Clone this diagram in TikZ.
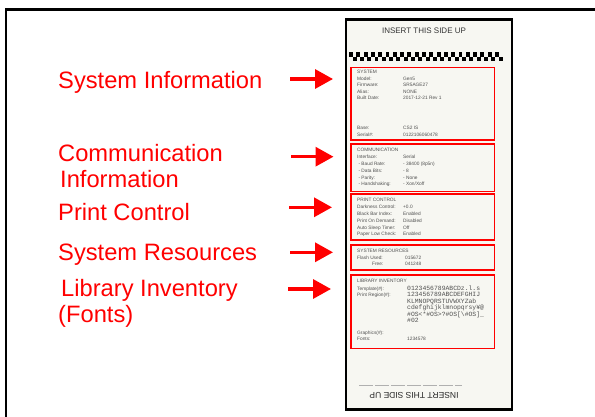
\documentclass[tikz,border=0pt]{standalone}
\usepackage{fontspec}
\setmainfont{Liberation Sans}
\newfontfamily\smono{Liberation Mono}
\usetikzlibrary{arrows.meta,fit}
\definecolor{paper}{RGB}{247,247,242}
\definecolor{ink}{RGB}{80,80,80}

\begin{document}
\begin{tikzpicture}[x=1pt,y=-1pt,
  lbl/.style={text=red,font=\fontsize{23.7}{26}\selectfont,inner sep=0pt,anchor=base west},
  sec/.style={draw=red,line width=1.8pt,inner sep=0pt},
  rtxt/.style={text=ink,inner sep=0pt,anchor=base west},
  arr/.style={draw=red,line width=3.3pt,-{Triangle[length=18pt,width=19pt]}}]
\path[use as bounding box,fill=white] (0,0) rectangle (595,417);
\draw[line width=2.6pt] (6,417) -- (6,9.5) -- (595,9.5);

% the printed slip
\node[draw,line width=2.4pt,fill=paper,inner sep=0pt,fit={(346,19.5) (512,409.5)}] (slip) {};
\node[font=\fontsize{8}{9}\selectfont,text=black!80] (topmark) at (424,31) {INSERT THIS SIDE UP};
\foreach \i in {0,...,20} {
  \fill (349+7.3*\i,52) rectangle +(3.9,4.7);
  \fill (352.6+7.3*\i,56.7) rectangle +(3.9,4.7);
}
\node[sec,fit={(351,67.5) (494.5,140)}] (sysbox) {};
\node[sec,fit={(351,144) (494.5,191.5)}] (combox) {};
\node[sec,fit={(351,194) (494.5,240)}] (prnbox) {};
\node[sec,fit={(351,245) (494.5,270)}] (resbox) {};
\node[sec,fit={(351,275) (494.5,348.5)}] (libbox) {};

\node[rtxt,font=\fontsize{4.8}{6.4}\selectfont] (systxt) at (357,74) {\begin{tabular}[t]{@{}p{46pt}@{}l@{}}
\multicolumn{2}{@{}l@{}}{SYSTEM}\\ Model: & Gen5\\ Firmware: & SR5AGE27\\ Alias: & NONE\\ Built Date: & 2017-12-21 Rev 1\\[24pt]
Base: & CS2 IS\\ Serial\#: & 0122106060478\end{tabular}};
\node[rtxt,font=\fontsize{4.8}{6.9}\selectfont] (comtxt) at (357,151.5) {\begin{tabular}[t]{@{}p{46pt}@{}l@{}}
\multicolumn{2}{@{}l@{}}{COMMUNICATION}\\ Interface: & Serial\\ \ - Baud Rate: & - 38400 (8p5n)\\ \ - Data Bits: & - 8\\
\ - Parity: & - None\\ \ - Handshaking: & - Xon/Xoff\end{tabular}};
\node[rtxt,font=\fontsize{4.8}{6.8}\selectfont] (prntxt) at (357,202) {\begin{tabular}[t]{@{}p{46pt}@{}l@{}}
\multicolumn{2}{@{}l@{}}{PRINT CONTROL}\\ Darkness Control: & +0.0\\ Black Bar Index: & Enabled\\ Print On Demand: & Disabled\\
Auto Sleep Timer: & Off\\ Paper Low Check: & Enabled\end{tabular}};
\node[rtxt,font=\fontsize{4.8}{6.5}\selectfont] (restxt) at (357,253) {\begin{tabular}[t]{@{}p{48pt}@{}l@{}}
\multicolumn{2}{@{}l@{}}{SYSTEM RESOURCES}\\ Flash Used: & 015672\\ \hspace{15pt}Free: & 041248\end{tabular}};
\node[rtxt,font=\fontsize{4.8}{6.5}\selectfont] (libtxt) at (357,282) {\begin{tabular}[t]{@{}p{50pt}@{}l@{}}
\multicolumn{2}{@{}l@{}}{LIBRARY INVENTORY}\\[1.5pt] Template(\#): & {\smono\fontsize{6.4}{6.5}\selectfont 0123456789ABCDz.l.s}\\
Print Region(\#): & {\smono\fontsize{6.4}{6.5}\selectfont 123456789ABCDEFGHIJ}\\
 & {\smono\fontsize{6.4}{6.5}\selectfont KLMNOPQRSTUVWXYZab}\\
 & {\smono\fontsize{6.4}{6.5}\selectfont cdefghijklmnopqrsy¥@}\\
 & {\smono\fontsize{6.4}{6.5}\selectfont \#OS<*\#OS>?\#OS[\textbackslash\#OS]\_}\\
 & {\smono\fontsize{6.4}{6.5}\selectfont \#02}\\[5pt]
Graphics(\#): & \\ Fonts: & 1234578\end{tabular}};
\draw[ink!45,line width=0.9pt,dash pattern=on 14pt off 2pt] (359,385) -- (462,385);
\node[font=\fontsize{8.5}{9}\selectfont,text=black!85,rotate=180] (botmark) at (414,395) {INSERT THIS SIDE UP};

% labels and pointers
\node[lbl] (sysinfo) at (58,88.5) {System Information};
\node[lbl] (cominfo) at (58,162) {Communication};
\node[lbl] (cominfo2) at (60,188) {Information};
\node[lbl] (prninfo) at (58,221) {Print Control};
\node[lbl] (resinfo) at (58,260.5) {System Resources};
\node[lbl] (libinfo) at (61,296) {Library Inventory};
\node[lbl] (libinfo2) at (58,322) {(Fonts)};
\coordinate (sysT) at (290,79);    \coordinate (sysH) at (333,79);
\coordinate (comT) at (291,156.7); \coordinate (comH) at (333.5,156.7);
\coordinate (prnT) at (289,207.3); \coordinate (prnH) at (332,207.3);
\coordinate (resT) at (290,252.3); \coordinate (resH) at (333,252.3);
\coordinate (libT) at (288,289);   \coordinate (libH) at (331,289);
\draw[arr] (sysT)--(sysH);\draw[arr] (comT)--(comH);\draw[arr] (prnT)--(prnH);
\draw[arr] (resT)--(resH);\draw[arr] (libT)--(libH);
\end{tikzpicture}
\end{document}
